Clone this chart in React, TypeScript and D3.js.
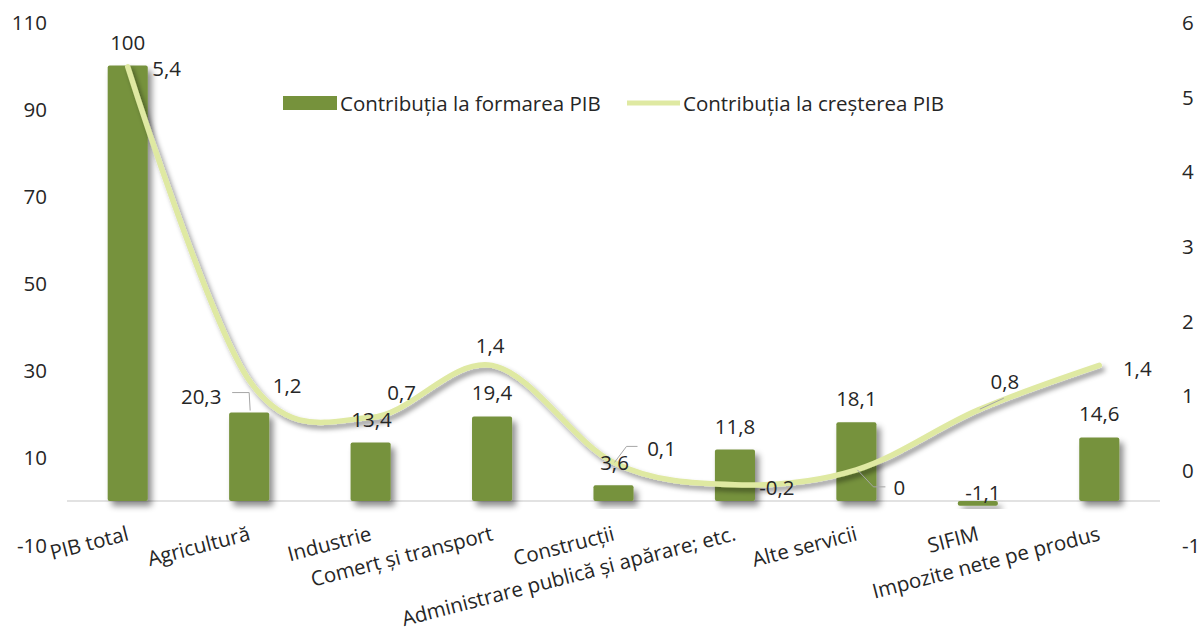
import React from 'react';
import * as d3 from 'd3';

const categories = [
  'PIB total',
  'Agricultură',
  'Industrie',
  'Comerț și transport',
  'Construcții',
  'Administrare publică și apărare; etc.',
  'Alte servicii',
  'SIFIM',
  'Impozite nete pe produs',
];
const formare = [100, 20.3, 13.4, 19.4, 3.6, 11.8, 18.1, -1.1, 14.6];
const crestere = [5.4, 1.2, 0.7, 1.4, 0.1, -0.2, 0, 0.8, 1.4];
const leftTicks = [-10, 10, 30, 50, 70, 90, 110];
const rightTicks = [-1, 0, 1, 2, 3, 4, 5, 6];
const seriesNames = ['Contribuția la formarea PIB', 'Contribuția la creșterea PIB'];

// label placement (offsets from the mark), not data
const barLabelOff = [[0, -24], [-48, -17], [1, -24], [0, -24], [1, -23], [0, -24], [0, -24], [5, -9], [0, -24]];
const lineLabelOff = [[39, 1], [38, 5], [31, -26], [-2, -20], [48, -14], [42, 2], [43, 17], [27, -29], [38, 3]];
const barLeaders: Record<number, number[][]> = { 1: [[1, -2], [0, -20], [-17, -20]] };
const lineLeaders: Record<number, number[][]> = {
  4: [[1, 0], [13, -16], [24, -16]],
  6: [[1, 0], [17, 17], [29, 17]],
  7: [[2, -1], [26, -12]],
};

const W = 1204;
const H = 627;
const GREEN = '#76923c';
const LINE = '#dfe9a2';
const TXT = '#262626';
const FONT = '"Open Sans", "Noto Sans", sans-serif';
const FS = 20.5;

const fmt = (v: number) => String(v).replace('.', ',');

export default function App() {
  const x = d3.scaleBand<string>().domain(categories).range([67, 1160]);
  const yL = d3.scaleLinear().domain([-10, 110]).range([544.5, 22]);
  const yR = d3.scaleLinear().domain([-1, 6]).range([544.5, 22]);
  const bw = x.bandwidth() * 0.33;
  const cx = (c: string) => (x(c) as number) + x.bandwidth() / 2;

  const line = d3
    .line<number>()
    .x((d, i) => cx(categories[i]))
    .y((d) => yR(d))
    .curve(d3.curveCardinal.tension(0));

  return (
    <svg
      width={W}
      height={H}
      style={{ position: 'absolute', left: 0, top: 0, background: '#fff' }}
      fontFamily={FONT}
    >
      <defs>
        <filter id="barShadow" x="-50%" y="-50%" width="200%" height="200%">
          <feDropShadow dx="4" dy="5" stdDeviation="3" floodColor="#000" floodOpacity="0.45" />
        </filter>
        <filter id="lineShadow" x="-10%" y="-10%" width="120%" height="120%">
          <feDropShadow dx="3" dy="4" stdDeviation="2.5" floodColor="#000" floodOpacity="0.4" />
        </filter>
      </defs>

      {/* left axis labels */}
      {leftTicks.map((t) => (
        <text key={'l' + t} x={47} y={yL(t)} textAnchor="end" dominantBaseline="central" fontSize={FS} fill={TXT}>
          {t}
        </text>
      ))}
      {/* right axis labels */}
      {rightTicks.map((t) => (
        <text key={'r' + t} x={1182} y={yR(t)} textAnchor="start" dominantBaseline="central" fontSize={FS} fill={TXT}>
          {t}
        </text>
      ))}

      {/* baseline */}
      <line x1={67} x2={1160} y1={yL(0)} y2={yL(0)} stroke="#d9d9d9" strokeWidth={1.5} />

      {/* bars */}
      {formare.map((v, i) => {
        const c = categories[i];
        const y0 = yL(Math.max(0, v));
        const h = Math.abs(yL(v) - yL(0));
        return (
          <rect
            key={'b' + i}
            x={cx(c) - bw / 2}
            y={y0}
            width={bw}
            height={h}
            rx={2}
            fill={GREEN}
            filter="url(#barShadow)"
          />
        );
      })}

      {/* line */}
      <path
        d={line(crestere) || ''}
        fill="none"
        stroke={LINE}
        strokeWidth={5.5}
        strokeLinecap="round"
        filter="url(#lineShadow)"
      />

      {/* bar labels */}
      {formare.map((v, i) => {
        const px = cx(categories[i]);
        const py = yL(Math.max(0, v));
        const [dx, dy] = barLabelOff[i];
        const ld = barLeaders[i];
        return (
          <g key={'bl' + i}>
            {ld && (
              <polyline
                points={ld.map((p) => `${px + p[0]},${py + p[1]}`).join(' ')}
                fill="none"
                stroke="#a6a6a6"
                strokeWidth={1}
              />
            )}
            <text x={px + dx} y={py + dy} textAnchor="middle" dominantBaseline="central" fontSize={FS} fill={TXT}>
              {fmt(v)}
            </text>
          </g>
        );
      })}

      {/* line labels */}
      {crestere.map((v, i) => {
        const px = cx(categories[i]);
        const py = yR(v);
        const [dx, dy] = lineLabelOff[i];
        const ld = lineLeaders[i];
        return (
          <g key={'ll' + i}>
            {ld && (
              <polyline
                points={ld.map((p) => `${px + p[0]},${py + p[1]}`).join(' ')}
                fill="none"
                stroke="#a6a6a6"
                strokeWidth={1}
              />
            )}
            <text x={px + dx} y={py + dy} textAnchor="middle" dominantBaseline="central" fontSize={FS} fill={TXT}>
              {fmt(v)}
            </text>
          </g>
        );
      })}

      {/* category labels */}
      {categories.map((c) => (
        <text
          key={'c' + c}
          transform={`translate(${cx(c) + 2},540) rotate(-14.5)`}
          textAnchor="end"
          fontSize={FS}
          fill={TXT}
        >
          {c}
        </text>
      ))}

      {/* legend */}
      <rect x={283} y={96} width={54} height={14} fill={GREEN} />
      <text x={340} y={103} dominantBaseline="central" fontSize={FS} fill={TXT}>
        {seriesNames[0]}
      </text>
      <line x1={627} x2={680} y1={103} y2={103} stroke={LINE} strokeWidth={5} />
      <text x={683} y={103} dominantBaseline="central" fontSize={FS} fill={TXT}>
        {seriesNames[1]}
      </text>
    </svg>
  );
}
